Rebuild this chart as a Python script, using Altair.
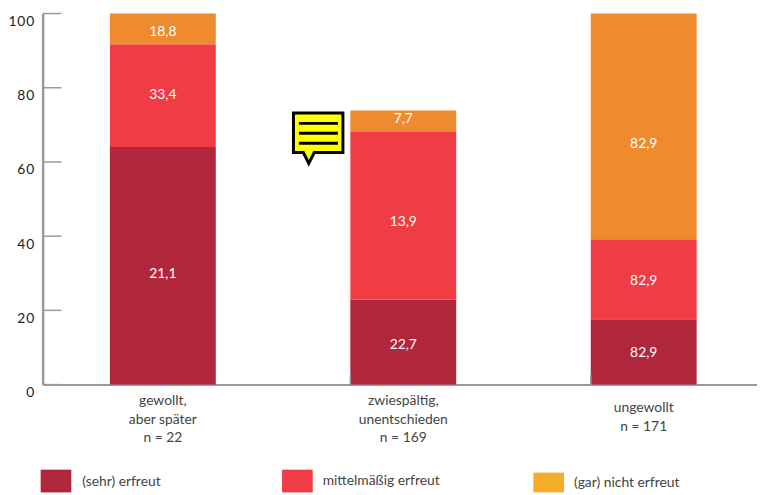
import altair as alt
import pandas as pd

categories = ["gewollt,\naber später\nn = 22", "zwiespältig,\nunentschieden\nn = 169", "ungewollt\nn = 171"]
series = ["(sehr) erfreut", "mittelmäßig erfreut", "(gar) nicht erfreut"]
bar_colors = ["#b0273b", "#ef3c45", "#ed8b2e"]
legend_colors = ["#b0273b", "#ef3c45", "#f4ac2b"]
sehr = [64.0, 22.9, 17.6]
mittel = [27.7, 45.4, 21.6]
nicht = [8.3, 5.6, 60.8]
text_sehr = ["21,1", "22,7", "82,9"]
text_mittel = ["33,4", "13,9", "82,9"]
text_nicht = ["18,8", "7,7", "82,9"]
at_sehr = [29.9, 10.7, 8.5]
at_mittel = [78.1, 43.7, 28.0]
at_nicht = [94.9, 71.5, 64.8]
y_ticks = [0, 20, 40, 60, 80, 100]

FONT = "Lato"
rows, labels = [], []
for i, c in enumerate(categories):
    base = 0.0
    for s, vals, txt, at in zip(series, [sehr, mittel, nicht],
                                [text_sehr, text_mittel, text_nicht],
                                [at_sehr, at_mittel, at_nicht]):
        rows.append({"cat": c, "series": s, "y0": base, "y1": base + vals[i]})
        labels.append({"cat": c, "text": txt[i], "at": at[i]})
        base += vals[i]
bars_df = pd.DataFrame(rows)
labels_df = pd.DataFrame(labels)

x_scale = alt.Scale(domain=categories, range=[0, 729], paddingInner=0.5597, paddingOuter=0.2798)
y_scale = alt.Scale(domain=[0, 100], nice=False)

bars = alt.Chart(bars_df).mark_bar(stroke=None).encode(
    x=alt.X("cat:N", scale=x_scale, sort=categories, title=None, axis=alt.Axis(
        labelAngle=0, labelAlign="center", labelBaseline="top", labelFont=FONT, labelFontSize=14,
        labelColor="#444444", labelLineHeight=19, tickSize=0, domainColor="#999999", domainWidth=2,
        labelExpr="split(datum.label, '\\n')", labelLimit=0,
        labelPadding={"condition": {"test": "indexof(datum.label, 'ungewollt') >= 0", "value": 16}, "value": 9},
    )),
    y=alt.Y("y0:Q", scale=y_scale, title=None, axis=alt.Axis(
        values=y_ticks, tickSize=0, domainColor="#999999", domainWidth=2.5, grid=False,
        labelFont=FONT, labelFontSize=14, labelColor="#222222", labelOffset=8, labelPadding=9,
        labelExpr="join(split(datum.label, ''), '\\u200a')",
    )),
    y2="y1:Q",
    color=alt.Color("series:N", scale=alt.Scale(domain=series, range=bar_colors), legend=None),
)

value_text = alt.Chart(labels_df).mark_text(color="white", font=FONT, fontSize=14, baseline="middle").encode(
    x=alt.X("cat:N", scale=x_scale, sort=categories),
    y=alt.Y("at:Q", scale=y_scale),
    text="text:N",
)

ticks = alt.Chart(pd.DataFrame({"v": y_ticks})).mark_rule(color="#999999", strokeWidth=1.5).encode(
    y=alt.Y("v:Q", scale=y_scale), x=alt.value(0), x2=alt.value(19),
)
separators = alt.Chart(pd.DataFrame({"cat": categories[1:]})).mark_rule(color="#999999", strokeWidth=1.5).encode(
    x=alt.X("cat:N", scale=x_scale, sort=categories, bandPosition=0),
    y=alt.value(365), y2=alt.value(375),
)

BUBBLE = "M-25,-20 H25 V20 H-4 L-9.5,31 L-15,20 H-25 Z"
NOTE_LINES = "M-19.5,-9.5 H20 M-19.5,0.5 H20 M-19.5,10.5 H20"
icon_x, icon_y = alt.value(278.5), alt.value(120.5)
icon = alt.Chart(pd.DataFrame({"a": [1]})).mark_point(
    shape=BUBBLE, size=4, filled=True, fill="#ffff00", opacity=1, stroke="black", strokeWidth=3,
).encode(x=icon_x, y=icon_y)
icon_lines = alt.Chart(pd.DataFrame({"a": [1]})).mark_point(
    shape=NOTE_LINES, size=4, filled=False, opacity=1, stroke="black", strokeWidth=3,
).encode(x=icon_x, y=icon_y)

legend_layers = []
for name, col, sx0, sx1, sy0, tx, ty in zip(
    series, legend_colors, [-2, 242, 496], [29, 273, 527], [461, 461, 464], [40, 283, 537], [473, 472, 475]
):
    d = pd.DataFrame({"name": [name]})
    legend_layers.append(alt.Chart(d).mark_rect(color=col).encode(
        x=alt.value(sx0), x2=alt.value(sx1), y=alt.value(sy0), y2=alt.value(484)))
    legend_layers.append(alt.Chart(d).mark_text(font=FONT, fontSize=14, color="#444444", align="left", baseline="middle").encode(
        x=alt.value(tx), y=alt.value(ty), text="name:N"))

chart = alt.layer(bars, value_text, ticks, separators, icon, icon_lines, *legend_layers).properties(
    width=722, height=375,
    autosize=alt.AutoSizeParams(type="none", contains="content"),
    padding={"left": 35, "top": 3, "right": 0, "bottom": 109},
).configure_view(stroke=None).configure(background="white") if False else alt.layer(
    bars, value_text, ticks, separators, icon, icon_lines, *legend_layers
).properties(
    width=722, height=375,
    autosize=alt.AutoSizeParams(type="none", contains="content"),
    padding={"left": 35, "top": 3, "right": 0, "bottom": 109},
).configure_view(stroke=None)

chart.save("out.html", embed_options={"renderer": "svg", "actions": False})
